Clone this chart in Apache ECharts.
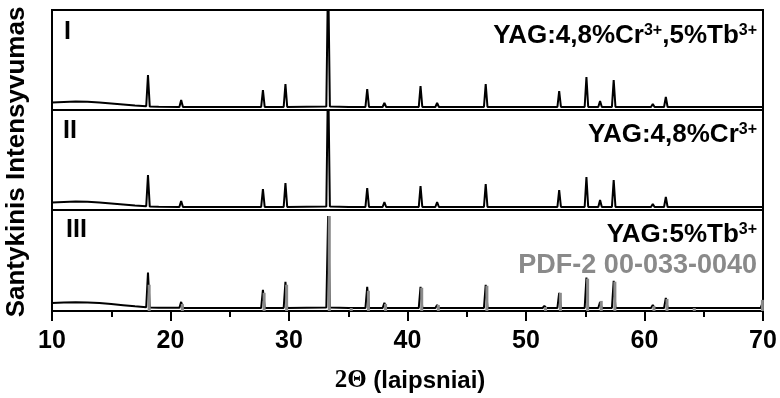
<!DOCTYPE html>
<html>
<head>
<meta charset="utf-8">
<script src="https://cdn.jsdelivr.net/npm/echarts@6/dist/echarts.min.js"></script>
<style>
  html, body { margin: 0; padding: 0; background: #fff; }
  #chart { width: 780px; height: 398px; }
</style>
</head>
<body>
<div id="chart"></div>
<script>
// XRD patterns, 2-theta (deg) vs relative intensity, one panel per sample
const panelLabels = ['I', 'II', 'III'];

// Panel I: YAG:4,8%Cr3+,5%Tb3+
const patternI = [
  [10, 7.5], [11, 8], [12, 8.5], [13, 8.2], [14, 7.5], [15, 6.5], [16, 5.5], [17, 4.5],
  [17.95, 3.8], [18.1, 35], [18.25, 3.4], [19, 3.2],
  [20.75, 3.1], [20.9, 10], [21.05, 3],
  [27.65, 3], [27.8, 20], [27.95, 3],
  [29.55, 3], [29.7, 26], [29.85, 3],
  [33.15, 3.5], [33.3, 140], [33.45, 3.5],
  [35.05, 3], [35.15, 4], [35.25, 3],
  [36.45, 3], [36.6, 21], [36.75, 3],
  [37.9, 3], [38.05, 7], [38.2, 3],
  [40.95, 3], [41.1, 24], [41.25, 3],
  [42.35, 3], [42.5, 7], [42.65, 3],
  [46.45, 3], [46.6, 26], [46.75, 3],
  [49.5, 3], [49.6, 4], [49.7, 3],
  [51.4, 3], [51.55, 5], [51.7, 3],
  [52.65, 3], [52.8, 19], [52.95, 3],
  [54.95, 3], [55.1, 33], [55.25, 3],
  [56.1, 3], [56.25, 9], [56.4, 3],
  [57.25, 3], [57.4, 30], [57.55, 3],
  [60.55, 3], [60.7, 6], [60.85, 3],
  [61.65, 3], [61.8, 13], [61.95, 3],
  [64.0, 3], [64.1, 4], [64.2, 3],
  [69.8, 3], [69.9, 5], [70, 3]
];

// Panel II: YAG:4,8%Cr3+
const patternII = [
  [10, 7.5], [11, 8], [12, 8.5], [13, 8.2], [14, 7.5], [15, 6.5], [16, 5.5], [17, 4.5],
  [17.95, 3.8], [18.1, 35], [18.25, 3.4], [19, 3.2],
  [20.75, 3.1], [20.9, 9], [21.05, 3],
  [27.65, 3], [27.8, 21], [27.95, 3],
  [29.55, 3], [29.7, 27], [29.85, 3],
  [33.15, 3.5], [33.3, 140], [33.45, 3.5],
  [35.05, 3], [35.15, 4], [35.25, 3],
  [36.45, 3], [36.6, 22], [36.75, 3],
  [37.9, 3], [38.05, 8], [38.2, 3],
  [40.95, 3], [41.1, 24], [41.25, 3],
  [42.35, 3], [42.5, 8], [42.65, 3],
  [46.45, 3], [46.6, 26], [46.75, 3],
  [49.5, 3], [49.6, 4], [49.7, 3],
  [51.4, 3], [51.55, 5], [51.7, 3],
  [52.65, 3], [52.8, 20], [52.95, 3],
  [54.95, 3], [55.1, 33], [55.25, 3],
  [56.1, 3], [56.25, 10], [56.4, 3],
  [57.25, 3], [57.4, 30], [57.55, 3],
  [60.55, 3], [60.7, 6], [60.85, 3],
  [61.65, 3], [61.8, 13], [61.95, 3],
  [64.0, 3], [64.1, 4], [64.2, 3],
  [69.8, 3], [69.9, 5], [70, 3]
];

// Panel III: YAG:5%Tb3+
const patternIII = [
  [10, 8], [11, 8.3], [12, 8.6], [13, 8.4], [14, 8], [15, 7], [16, 5.8], [17, 4.6],
  [17.95, 3.8], [18.1, 38], [18.25, 3.4], [19, 3.2],
  [20.75, 3.1], [20.9, 9], [21.05, 3],
  [27.65, 3], [27.8, 21], [27.95, 3],
  [29.55, 3], [29.7, 29], [29.85, 3],
  [33.15, 3.5], [33.3, 94], [33.45, 3.5],
  [35.05, 3], [35.15, 4], [35.25, 3],
  [36.45, 3], [36.6, 24], [36.75, 3],
  [37.9, 3], [38.05, 8], [38.2, 3],
  [40.95, 3], [41.1, 24], [41.25, 3],
  [42.35, 3], [42.5, 6], [42.65, 3],
  [46.45, 3], [46.6, 26], [46.75, 3],
  [49.5, 3], [49.6, 4], [49.7, 3],
  [51.4, 3], [51.55, 5], [51.7, 3],
  [52.65, 3], [52.8, 18], [52.95, 3],
  [54.95, 3], [55.1, 33], [55.25, 3],
  [56.1, 3], [56.25, 9], [56.4, 3],
  [57.25, 3], [57.4, 30], [57.55, 3],
  [60.55, 3], [60.7, 6], [60.85, 3],
  [61.65, 3], [61.8, 13], [61.95, 3],
  [64.0, 3], [64.1, 4], [64.2, 3],
  [69.8, 3], [69.9, 6], [70, 3]
];

// PDF-2 00-033-0040 reference lines (position, relative intensity)
const pdfLines = [
  [18.2, 26], [21.0, 7], [27.9, 18], [29.8, 26], [33.4, 94], [35.25, 3],
  [36.7, 20], [38.15, 7], [41.2, 23], [42.6, 6], [46.7, 25], [51.65, 4],
  [52.9, 18], [55.2, 32], [56.35, 10], [57.5, 29], [60.8, 5], [61.9, 12],
  [64.2, 3], [69.95, 11]
];

const xMin = 10, xMax = 70, xStep = 10;
const xAxisTitle = '2Θ';
const xAxisUnit = ' (laipsniai)';
const yAxisTitle = 'Santykinis Intensyvumas';

const FONT = '"Liberation Sans", Arial, sans-serif';
const SERIF = '"Liberation Serif", "Times New Roman", serif';

const panels = [
  { top: 10, height: 100 },
  { top: 110, height: 100 },
  { top: 210, height: 101 }
];

const grids = panels.map(p => ({
  left: 52, right: 17, top: p.top, height: p.height,
  show: true, borderColor: '#000', borderWidth: 2, backgroundColor: 'transparent'
}));

const xAxes = panels.map((p, i) => {
  const last = i === panels.length - 1;
  return {
    type: 'value', gridIndex: i, min: xMin, max: xMax, interval: xStep,
    axisLine: { show: true, lineStyle: { color: '#000', width: 2 } },
    axisTick: { show: last, length: 10, lineStyle: { color: '#000', width: 2 } },
    minorTick: { show: last, splitNumber: 2, length: 6, lineStyle: { color: '#000', width: 2 } },
    splitLine: { show: false },
    axisLabel: {
      show: last, margin: 18, color: '#000', fontFamily: FONT,
      fontWeight: 'bold', fontSize: 25
    }
  };
});

const yAxes = panels.map((p, i) => ({
  type: 'value', gridIndex: i, min: 0, max: 100,
  axisLine: { show: true, lineStyle: { color: '#000', width: 2 } },
  axisTick: { show: false }, axisLabel: { show: false }, splitLine: { show: false }
}));

const traceStyle = { color: '#000', width: 2 };
const series = [
  { type: 'line', xAxisIndex: 0, yAxisIndex: 0, data: patternI, showSymbol: false, symbol: 'none', lineStyle: traceStyle, clip: true, animation: false },
  { type: 'line', xAxisIndex: 1, yAxisIndex: 1, data: patternII, showSymbol: false, symbol: 'none', lineStyle: traceStyle, clip: true, animation: false },
  { type: 'line', xAxisIndex: 2, yAxisIndex: 2, data: patternIII, showSymbol: false, symbol: 'none', lineStyle: traceStyle, clip: true, animation: false, z: 2 },
  { type: 'bar', xAxisIndex: 2, yAxisIndex: 2, data: pdfLines, barWidth: 3, itemStyle: { color: '#8a8a8a' }, z: 3, animation: false }
];

const sup = { fontFamily: FONT, fontWeight: 'bold', fontSize: 16, lineHeight: 12, verticalAlign: 'top' };

function richText(x, y, text) {
  return {
    type: 'text', x: x, y: y, silent: true,
    style: {
      text: text, align: 'right', verticalAlign: 'middle',
      font: 'bold 26px ' + FONT, fill: '#000',
      rich: { m: { fontFamily: FONT, fontWeight: 'bold', fontSize: 26, lineHeight: 26 }, s: sup }
    }
  };
}

const graphics = [
  // panel numerals
  { type: 'text', left: 64, top: 20, silent: true, style: { text: panelLabels[0], font: 'bold 25px ' + FONT, fill: '#000' } },
  { type: 'text', left: 63, top: 119, silent: true, style: { text: panelLabels[1], font: 'bold 25px ' + FONT, fill: '#000' } },
  { type: 'text', left: 66, top: 218, silent: true, style: { text: panelLabels[2], font: 'bold 25px ' + FONT, fill: '#000' } },
  // sample names
  richText(757, 36, '{m|YAG:4,8%Cr}{s|3+}{m|,5%Tb}{s|3+}'),
  richText(757, 135, '{m|YAG:4,8%Cr}{s|3+}'),
  richText(757, 235, '{m|YAG:5%Tb}{s|3+}'),
  { type: 'text', x: 757, y: 266, silent: true,
    style: { text: 'PDF-2 00-033-0040', align: 'right', verticalAlign: 'middle', font: 'bold 27px ' + FONT, fill: '#8a8a8a' } },
  // axis titles
  { type: 'text', x: 410, y: 381, silent: true,
    style: {
      text: '{g|' + xAxisTitle + '}{a|' + xAxisUnit + '}', align: 'center', verticalAlign: 'middle',
      rich: {
        g: { fontFamily: SERIF, fontWeight: 'bold', fontSize: 25, lineHeight: 28 },
        a: { fontFamily: FONT, fontWeight: 'bold', fontSize: 24, lineHeight: 28 }
      }
    } },
  { type: 'text', x: 17, y: 162, rotation: Math.PI / 2, silent: true,
    style: { text: yAxisTitle, align: 'center', verticalAlign: 'middle', font: 'bold 26px ' + FONT, fill: '#000' } }
];

const chart = echarts.init(document.getElementById('chart'), null, { renderer: 'canvas' });
chart.setOption({
  animation: false,
  backgroundColor: '#fff',
  grid: grids,
  xAxis: xAxes,
  yAxis: yAxes,
  series: series,
  graphic: graphics
});
</script>
</body>
</html>
